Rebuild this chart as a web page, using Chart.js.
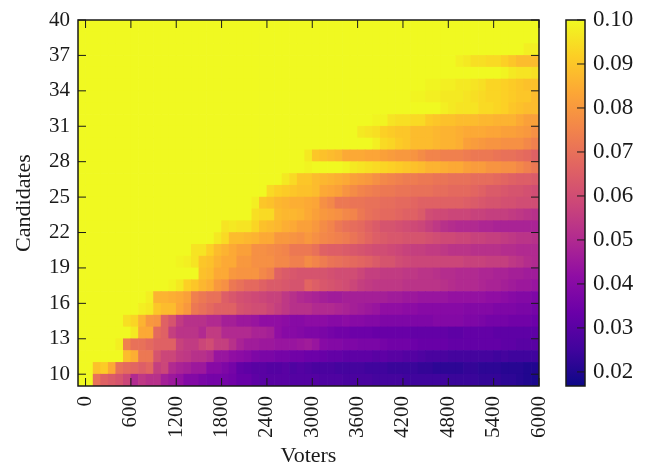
<!DOCTYPE html>
<html>
<head>
<meta charset="utf-8">
<title>Voters vs Candidates</title>
<script src="https://cdn.jsdelivr.net/npm/chart.js@4"></script>
<style>
  body { margin: 0; background: #fff; }
  #box { position: relative; width: 650px; height: 467px; }
  canvas { position: absolute; top: 0; }
</style>
</head>
<body>
<div id="box">
  <canvas id="heat" width="545" height="467" style="left:0"></canvas>
  <canvas id="bar" width="110" height="467" style="left:540px"></canvas>
</div>
<script>
// column centres (each cell is 100 voters wide)
const voters = [-50,50,150,250,350,450,550,650,750,850,950,1050,1150,1250,1350,1450,1550,1650,1750,1850,1950,2050,2150,2250,2350,2450,2550,2650,2750,2850,2950,3050,3150,3250,3350,3450,3550,3650,3750,3850,3950,4050,4150,4250,4350,4450,4550,4650,4750,4850,4950,5050,5150,5250,5350,5450,5550,5650,5750,5850,5950];
const candidates = [9,10,11,12,13,14,15,16,17,18,19,20,21,22,23,24,25,26,27,28,29,30,31,32,33,34,35,36,37,38,39];
const xTicks = [0,600,1200,1800,2400,3000,3600,4200,4800,5400,6000];
const yTicks = [10,13,16,19,22,25,28,31,34,37,40];
const barTicks = [0.02,0.03,0.04,0.05,0.06,0.07,0.08,0.09,0.10];

// cell values x 1000, one list per row
const row09 = [100,100,70,66,64,62,58,50,54,52, 52,47,45,43,39,39,37,36,36,36, 35,33,33,31,30,30,30,30,29,29, 29,29,28,28,28,27,27,27,27,26, 26,26,26,25,25,25,25,25,25,24, 24,24,24,23,23,23,22,22,21,20, 19];
const row10 = [100,100,89,91,84,70,68,67,65,67, 56,58,50,48,47,45,45,40,40,38, 36,32,31,30,30,29,29,30,28,29, 28,27,27,27,26,26,26,26,25,25, 25,24,24,24,24,23,23,22,22,22, 22,23,23,22,22,22,21,21,21,20, 20];
const row11 = [100,100,100,100,100,100,88,85,72,72, 62,58,58,55,54,52,52,50,44,44, 42,41,40,38,37,37,36,36,35,35, 34,34,33,32,32,31,31,31,31,30, 31,30,30,29,29,28,27,27,27,26, 26,26,26,26,26,25,26,25,25,25, 25];
const row12 = [100,100,100,100,100,98,74,70,70,68, 66,66,66,57,55,55,58,60,56,56, 52,48,46,46,45,45,44,44,44,45, 46,44,40,39,39,38,38,37,37,37, 36,35,35,35,34,33,33,33,33,32, 32,32,32,32,32,32,31,31,30,30, 30];
const row13 = [100,100,100,100,100,100,100,97,84,84, 68,66,56,53,53,53,50,55,55,50, 50,50,50,48,48,47,42,40,40,39, 38,38,37,36,35,35,34,34,34,33, 33,33,33,33,32,32,32,32,32,31, 31,32,32,32,32,31,31,31,31,31, 31];
const row14 = [100,100,100,100,100,100,95,93,86,80, 79,66,62,55,52,52,52,50,50,47, 47,45,45,44,42,42,42,41,40,40, 41,41,41,40,40,41,40,40,39,39, 38,38,38,38,38,38,38,39,39,39, 39,38,38,37,36,36,36,35,35,35, 34];
const row15 = [100,100,100,100,100,100,100,100,98,97, 90,88,88,83,80,72,70,68,66,66, 66,62,61,60,60,58,56,54,52,52, 52,50,50,50,49,48,47,46,45,44, 42,42,42,41,41,40,40,40,40,40, 40,39,39,39,39,38,38,38,37,37, 36];
const row16 = [100,100,100,100,100,100,100,100,100,98, 86,86,85,84,82,74,72,70,70,65, 63,61,60,59,58,57,57,54,52,50, 49,48,47,46,46,47,47,47,47,47, 47,46,46,45,45,44,44,44,44,43, 43,43,43,43,42,42,41,40,39,39, 38];
const row17 = [100,100,100,100,100,100,100,100,100,100, 100,100,99,97,92,90,87,85,80,78, 72,70,68,68,66,64,64,63,62,62, 67,65,63,62,61,60,58,56,55,54, 54,54,54,53,53,53,53,53,52,51, 50,50,50,49,48,48,47,46,45,45, 44];
const row18 = [100,100,100,100,100,100,100,100,100,100, 100,100,100,100,100,100,89,88,84,84, 80,79,79,79,76,74,66,64,63,62, 62,62,62,61,60,60,60,58,56,56, 55,55,55,54,54,53,53,52,51,51, 50,50,50,49,49,48,48,47,47,46, 46];
const row19 = [100,100,100,100,100,100,100,100,100,100, 100,100,100,99,98,96,90,89,86,84, 84,80,80,78,78,78,76,76,74,74, 77,75,73,71,70,69,68,67,66,64, 62,62,60,59,58,58,58,58,58,58, 58,57,57,57,56,56,56,54,53,51, 50];
const row20 = [100,100,100,100,100,100,100,100,100,100, 100,100,100,100,100,96,96,92,88,86, 84,82,82,78,78,77,76,75,72,72, 72,70,66,65,65,64,63,62,61,60, 60,59,58,57,56,56,55,55,54,53, 53,53,52,52,52,52,51,51,50,50, 50];
const row21 = [100,100,100,100,100,100,100,100,100,100, 100,100,100,100,100,100,100,100,97,94, 88,88,87,86,84,84,80,80,79,78, 80,78,76,75,74,73,71,69,67,65, 64,63,63,62,62,62,61,60,59,59, 58,58,57,57,56,56,55,54,53,53, 52];
const row22 = [100,100,100,100,100,100,100,100,100,100, 100,100,100,100,100,100,100,100,100,96, 97,96,96,93,89,88,87,85,84,82, 82,80,77,75,72,70,69,68,66,64, 62,62,61,60,59,58,56,54,52,51, 50,50,50,49,49,48,48,48,48,48, 48];
const row23 = [100,100,100,100,100,100,100,100,100,100, 100,100,100,100,100,100,100,100,100,100, 100,100,100,95,94,94,88,87,87,86, 84,82,80,79,78,76,75,72,70,69, 68,68,67,66,66,64,60,59,59,58, 58,58,57,57,56,56,56,55,54,53, 52];
const row24 = [100,100,100,100,100,100,100,100,100,100, 100,100,100,100,100,100,100,100,100,100, 100,100,100,98,90,89,87,86,85,85, 84,83,78,76,72,72,71,71,70,70, 69,69,68,68,67,66,66,66,66,66, 66,65,64,63,62,62,61,61,60,60, 60];
const row25 = [100,100,100,100,100,100,100,100,100,100, 100,100,100,100,100,100,100,100,100,100, 100,100,100,100,100,94,92,91,90,89, 89,88,84,83,82,79,77,75,74,73, 72,72,71,71,70,70,70,69,69,68, 68,68,67,66,64,64,63,62,62,61, 60];
const row26 = [100,100,100,100,100,100,100,100,100,100, 100,100,100,100,100,100,100,100,100,100, 100,100,100,100,100,100,100,97,94,90, 90,88,87,86,85,84,82,81,80,78, 76,75,74,73,73,72,72,71,71,70, 70,70,69,69,69,68,67,66,65,65, 64];
const row27 = [100,100,100,100,100,100,100,100,100,100, 100,100,100,100,100,100,100,100,100,100, 100,100,100,100,100,100,100,100,100,100, 99,100,100,100,100,99,97,96,95,94, 93,92,91,90,89,88,86,86,85,84, 84,82,81,81,79,79,78,78,76,74, 72];
const row28 = [100,100,100,100,100,100,100,100,100,100, 100,100,100,100,100,100,100,100,100,100, 100,100,100,100,100,100,100,100,100,100, 97,90,89,88,87,84,84,84,83,83, 82,81,80,80,79,77,75,75,74,74, 74,73,72,72,72,71,70,70,69,68, 66];
const row29 = [100,100,100,100,100,100,100,100,100,100, 100,100,100,100,100,100,100,100,100,100, 100,100,100,100,100,100,100,100,100,100, 100,100,100,100,100,100,100,100,100,98, 94,93,91,90,88,88,88,87,86,86, 85,82,81,80,79,79,78,78,78,76, 74];
const row30 = [100,100,100,100,100,100,100,100,100,100, 100,100,100,100,100,100,100,100,100,100, 100,100,100,100,100,100,100,100,100,100, 100,100,100,100,100,100,100,97,96,95, 92,91,90,90,88,88,88,87,86,86, 85,84,84,84,83,83,82,82,81,80, 78];
const row31 = [100,100,100,100,100,100,100,100,100,100, 100,100,100,100,100,100,100,100,100,100, 100,100,100,100,100,100,100,100,100,100, 100,100,100,100,100,100,100,100,100,99, 99,96,95,95,94,94,91,90,89,89, 88,88,88,87,87,86,86,86,84,82, 82];
const row32 = [100,100,100,100,100,100,100,100,100,100, 100,100,100,100,100,100,100,100,100,100, 100,100,100,100,100,100,100,100,100,100, 100,100,100,100,100,100,100,100,100,100, 100,100,100,100,100,100,100,100,98,97, 96,96,96,94,94,93,92,90,89,88, 88];
const row33 = [100,100,100,100,100,100,100,100,100,100, 100,100,100,100,100,100,100,100,100,100, 100,100,100,100,100,100,100,100,100,100, 100,100,100,100,100,100,100,100,100,100, 100,100,100,100,99,99,98,98,97,97, 97,96,95,94,93,93,92,91,90,90, 88];
const row34 = [100,100,100,100,100,100,100,100,100,100, 100,100,100,100,100,100,100,100,100,100, 100,100,100,100,100,100,100,100,100,100, 100,100,100,100,100,100,100,100,100,100, 100,100,100,100,100,100,99,99,98,98, 97,97,96,95,93,93,92,91,90,89, 89];
const row35 = [100,100,100,100,100,100,100,100,100,100, 100,100,100,100,100,100,100,100,100,100, 100,100,100,100,100,100,100,100,100,100, 100,100,100,100,100,100,100,100,100,100, 100,100,100,100,100,100,100,100,100,100, 100,100,100,100,100,100,99,97,96,96, 95];
const row36 = [100,100,100,100,100,100,100,100,100,100, 100,100,100,100,100,100,100,100,100,100, 100,100,100,100,100,100,100,100,100,100, 100,100,100,100,100,100,100,100,100,100, 100,100,100,100,100,100,100,100,100,100, 98,97,95,95,94,94,92,90,88,88, 88];
const row37 = [100,100,100,100,100,100,100,100,100,100, 100,100,100,100,100,100,100,100,100,100, 100,100,100,100,100,100,100,100,100,100, 100,100,100,100,100,100,100,100,100,100, 100,100,100,100,100,100,100,100,100,100, 100,100,100,100,100,100,100,100,100,98, 98];
const row38 = [100,100,100,100,100,100,100,100,100,100, 100,100,100,100,100,100,100,100,100,100, 100,100,100,100,100,100,100,100,100,100, 100,100,100,100,100,100,100,100,100,100, 100,100,100,100,100,100,100,100,100,100, 100,100,100,100,100,100,100,100,100,100, 100];
const row39 = [100,100,100,100,100,100,100,100,100,100, 100,100,100,100,100,100,100,100,100,100, 100,100,100,100,100,100,100,100,100,100, 100,100,100,100,100,100,100,100,100,100, 100,100,100,100,100,100,100,100,100,100, 100,100,100,100,100,100,100,100,100,100, 100];
const rows = [row09,row10,row11,row12,row13,row14,row15,row16,row17,row18,row19,row20,row21,row22,row23,row24,row25,row26,row27,row28,row29,row30,row31,row32,row33,row34,row35,row36,row37,row38,row39];

const vMin = 0.0168;
const vMax = 0.1;
const plasma = ["#0d0887","#41049d","#6a00a8","#8f0da4","#b12a90","#cc4778","#e16462","#f2844b","#fca636","#fcce25","#f0f921"];

function hexToRgb(h) {
  return [1, 3, 5].map((i) => parseInt(h.slice(i, i + 2), 16));
}

function colorFor(v) {
  const t = Math.min(1, Math.max(0, (v - vMin) / (vMax - vMin))) * (plasma.length - 1);
  const i = Math.min(plasma.length - 2, Math.floor(t));
  const a = hexToRgb(plasma[i]);
  const b = hexToRgb(plasma[i + 1]);
  const c = a.map((x, k) => Math.round(x + (b[k] - x) * (t - i)));
  return `rgb(${c[0]},${c[1]},${c[2]})`;
}

const tickFont = { family: "'Liberation Serif', serif", size: 21 };
const titleFont = { family: "'Liberation Serif', serif", size: 22, lineHeight: 1 };
const barFont = { family: "'Liberation Serif', serif", size: 23 };
const ink = "#1a1a1a";

// classic style: box round the axes, ticks pointing inwards on every side
const boxTicks = {
  id: "boxTicks",
  afterDatasetsDraw(chart, args, opts) {
    const { ctx, chartArea: a } = chart;
    const len = opts.len;
    ctx.save();
    ctx.strokeStyle = ink;
    ctx.lineWidth = 1;
    ctx.beginPath();
    Object.values(chart.scales).forEach((scale) => {
      if (!scale.options.display) return;
      scale.ticks.forEach((t) => {
        const p = scale.getPixelForValue(t.value);
        if (scale.isHorizontal()) {
          ctx.moveTo(p, a.bottom); ctx.lineTo(p, a.bottom - len);
          ctx.moveTo(p, a.top); ctx.lineTo(p, a.top + len);
        } else {
          if (opts.both) { ctx.moveTo(a.left, p); ctx.lineTo(a.left + len, p); }
          ctx.moveTo(a.right, p); ctx.lineTo(a.right - len, p);
        }
      });
    });
    ctx.stroke();
    ctx.lineWidth = 1.5;
    ctx.strokeRect(a.left, a.top, a.right - a.left, a.bottom - a.top);
    ctx.restore();
  },
};

// no extra room for overhanging labels, the plot box stays where it is put
function noOverhang(s) {
  s.paddingLeft = 0;
  s.paddingRight = 0;
  s.paddingTop = 0;
  s.paddingBottom = 0;
}

new Chart(document.getElementById("heat"), {
  type: "bar",
  plugins: [boxTicks],
  data: {
    datasets: rows.map((row, r) => ({
      data: voters.map((v, i) => ({ x: v, y: [candidates[r], candidates[r] + 1] })),
      backgroundColor: row.map((v) => colorFor(v / 1000)),
      borderWidth: 0,
      barPercentage: 1,
      categoryPercentage: 1,
      grouped: false,
    })),
  },
  options: {
    responsive: false,
    animation: false,
    layout: { padding: { top: 20, right: 6, bottom: 0, left: 0 } },
    plugins: {
      legend: { display: false },
      tooltip: { enabled: false },
      boxTicks: { len: 8, both: true },
    },
    scales: {
      x: {
        type: "linear",
        offset: false,
        min: -100,
        max: 6000,
        afterBuildTicks: (s) => { s.ticks = xTicks.map((value) => ({ value })); },
        afterFit: (s) => { s.height = 81; noOverhang(s); },
        grid: { display: false, drawTicks: false },
        border: { display: false },
        ticks: {
          color: ink, font: tickFont, padding: 10, minRotation: 90, maxRotation: 90, autoSkip: false,
          callback: (v) => String(v),
        },
        title: { display: true, text: "Voters", color: ink, font: titleFont, padding: { top: 0, bottom: 0 } },
      },
      y: {
        type: "linear",
        min: 9,
        max: 40,
        afterBuildTicks: (s) => { s.ticks = yTicks.map((value) => ({ value })); },
        afterFit: (s) => { s.width = 78; noOverhang(s); },
        grid: { display: false, drawTicks: false },
        border: { display: false },
        ticks: { color: ink, font: tickFont, padding: 8, autoSkip: false, callback: (v) => String(v) },
        title: { display: true, text: "Candidates", color: ink, font: titleFont, padding: { top: 13, bottom: 0 } },
      },
    },
  },
});

// colorbar: one floating bar with the colour map as its fill
new Chart(document.getElementById("bar"), {
  type: "bar",
  plugins: [boxTicks],
  data: {
    labels: ["v"],
    datasets: [{
      data: [[vMin, vMax]],
      borderWidth: 0,
      barPercentage: 1,
      categoryPercentage: 1,
      backgroundColor: (c) => {
        const a = c.chart.chartArea;
        if (!a) return plasma[0];
        const g = c.chart.ctx.createLinearGradient(0, a.bottom, 0, a.top);
        plasma.forEach((col, i) => g.addColorStop(i / (plasma.length - 1), col));
        return g;
      },
    }],
  },
  options: {
    responsive: false,
    animation: false,
    layout: { padding: { top: 20, bottom: 81, left: 26, right: 0 } },
    plugins: {
      legend: { display: false },
      tooltip: { enabled: false },
      boxTicks: { len: 8, both: false },
    },
    scales: {
      x: { display: false },
      y: {
        position: "right",
        min: vMin,
        max: vMax,
        afterBuildTicks: (s) => { s.ticks = barTicks.map((value) => ({ value })); },
        afterFit: (s) => { s.width = 65; noOverhang(s); },
        grid: { display: false, drawTicks: false },
        border: { display: false },
        ticks: { color: ink, font: barFont, padding: 8, autoSkip: false, callback: (v) => v.toFixed(2) },
      },
    },
  },
});
</script>
</body>
</html>
